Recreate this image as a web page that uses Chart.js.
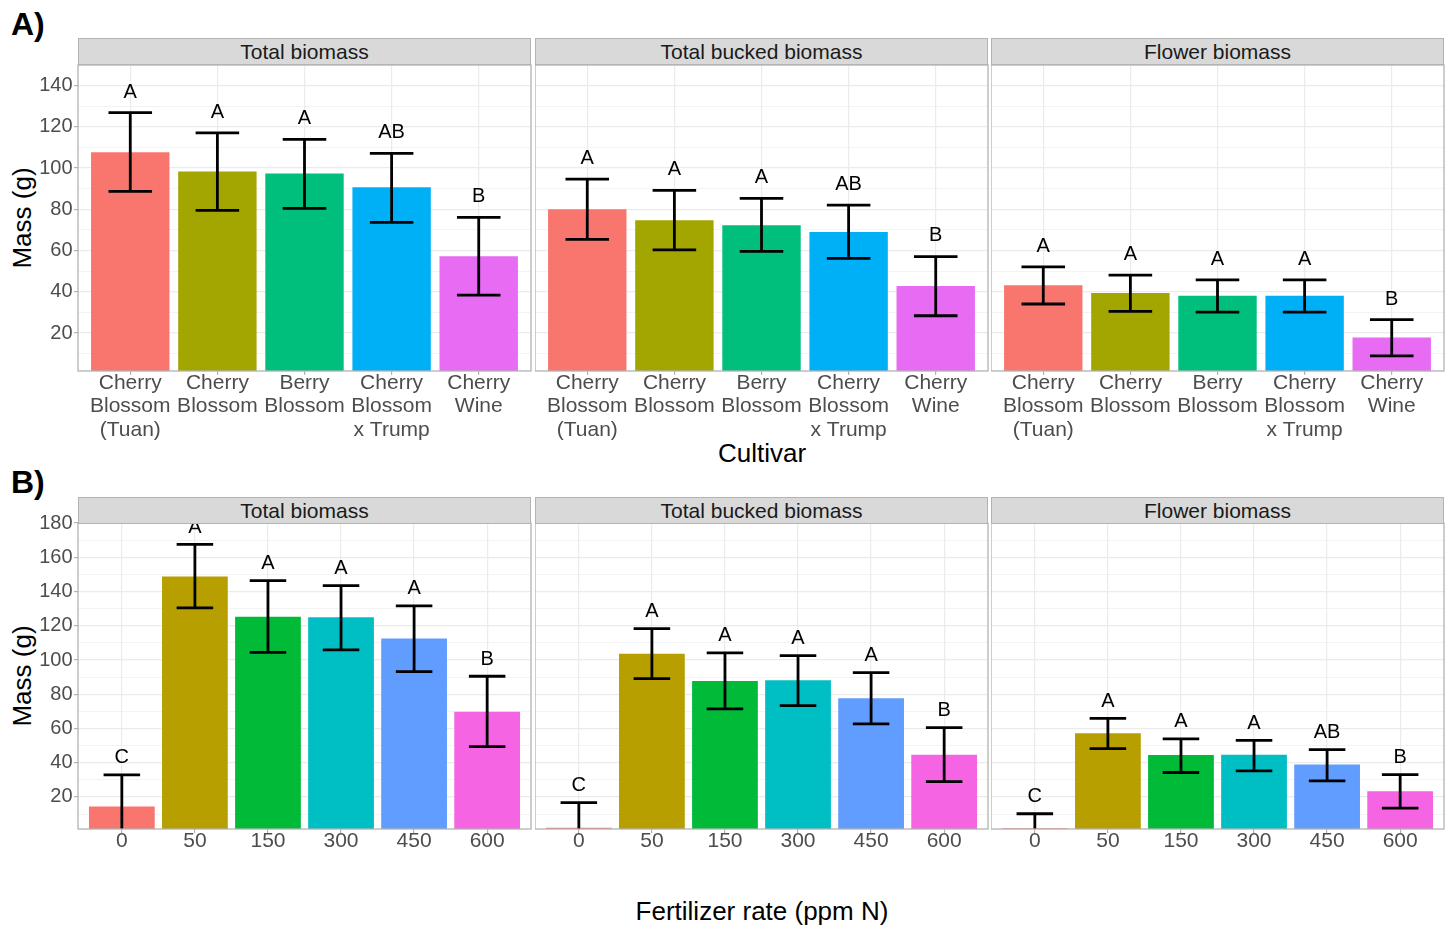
<!DOCTYPE html>
<html>
<head>
<meta charset="utf-8">
<script src="https://cdn.jsdelivr.net/npm/chart.js@4.4.1/dist/chart.umd.min.js"></script>
<style>
  body { margin: 0; background: #fff; font-family: "Liberation Sans", Arial, sans-serif; }
  #page { position: relative; width: 1447px; height: 926px; overflow: hidden; background: #fff; }
  canvas, .strip, .txt { position: absolute; }
  .strip { box-sizing: border-box; background: #d9d9d9; border: 1px solid #b3b3b3; color: #1a1a1a;
           font-size: 21px; text-align: center; line-height: 25px; }
  .txt { text-align: center; color: #000; white-space: nowrap; }
  .tag { font-weight: bold; font-size: 32px; text-align: left; }
  .axis { font-size: 26px; }
  .rot { transform: rotate(-90deg); }
</style>
</head>
<body>
<div id="page">
  <div class="txt tag" style="left:11px; top:4px; height:40px; line-height:40px;">A)</div>
  <div class="txt tag" style="left:11px; top:462px; height:40px; line-height:40px;">B)</div>
  <div class="txt axis" style="left:612px; top:437px; width:300px; height:32px; line-height:32px;">Cultivar</div>
  <div class="txt axis" style="left:562px; top:895px; width:400px; height:32px; line-height:32px;">Fertilizer rate (ppm N)</div>
  <div class="txt axis rot" style="left:-78px; top:202px; width:200px; height:32px; line-height:32px;">Mass (g)</div>
  <div class="txt axis rot" style="left:-78px; top:660px; width:200px; height:32px; line-height:32px;">Mass (g)</div>

  <canvas id="a1"></canvas><canvas id="a2"></canvas><canvas id="a3"></canvas>
  <canvas id="b1"></canvas><canvas id="b2"></canvas><canvas id="b3"></canvas>
</div>

<script>
// ---- data ----
const panelTitles = ['Total biomass', 'Total bucked biomass', 'Flower biomass'];

const cultivars = [
  ['Cherry', 'Blossom', '(Tuan)'],
  ['Cherry', 'Blossom'],
  ['Berry', 'Blossom'],
  ['Cherry', 'Blossom', 'x Trump'],
  ['Cherry', 'Wine']
];
const rates = ['0', '50', '150', '300', '450', '600'];

// A) by cultivar: mean, lower and upper end of error bar, letters
const cultTotalMean = [107.7, 98.3, 97.4, 90.7, 57.3];
const cultTotalLow = [88.7, 79.5, 80.5, 73.7, 38.4];
const cultTotalHigh = [126.9, 117.1, 113.9, 107.1, 76.1];
const cultTotalLetters = ['A', 'A', 'A', 'AB', 'B'];

const cultBuckedMean = [80.0, 74.7, 72.3, 69.0, 42.8];
const cultBuckedLow = [65.4, 60.3, 59.6, 56.2, 28.4];
const cultBuckedHigh = [94.7, 89.2, 85.3, 82.0, 57.1];
const cultBuckedLetters = ['A', 'A', 'A', 'AB', 'B'];

const cultFlowerMean = [43.2, 39.4, 38.1, 38.1, 17.8];
const cultFlowerLow = [34.1, 30.5, 30.2, 30.2, 8.9];
const cultFlowerHigh = [52.1, 48.1, 45.8, 45.8, 26.5];
const cultFlowerLetters = ['A', 'A', 'A', 'A', 'B'];

// B) by fertilizer rate
const rateTotalMean = [14.5, 148.8, 125.3, 124.9, 112.5, 69.8];
const rateTotalLow = [-3.9, 130.4, 104.5, 105.9, 93.2, 49.4];
const rateTotalHigh = [32.9, 167.5, 146.3, 143.4, 131.6, 90.5];
const rateTotalLetters = ['C', 'A', 'A', 'A', 'A', 'B'];

const rateBuckedMean = [2.1, 103.7, 87.8, 88.1, 77.6, 44.6];
const rateBuckedLow = [-12.5, 89.1, 71.4, 73.3, 62.7, 29.0];
const rateBuckedHigh = [16.7, 118.3, 104.1, 102.5, 92.6, 60.5];
const rateBuckedLetters = ['C', 'A', 'A', 'A', 'A', 'B'];

const rateFlowerMean = [1.7, 57.2, 44.5, 44.7, 39.0, 23.3];
const rateFlowerLow = [-7.0, 48.2, 34.3, 35.3, 29.4, 13.5];
const rateFlowerHigh = [10.2, 65.9, 53.9, 53.1, 47.7, 33.1];
const rateFlowerLetters = ['C', 'A', 'A', 'A', 'AB', 'B'];

// axis ticks
const massTicksA = [20, 40, 60, 80, 100, 120, 140];
const massMinorA = [10, 30, 50, 70, 90, 110, 130];
const massTicksB = [20, 40, 60, 80, 100, 120, 140, 160, 180];
const massMinorB = [10, 30, 50, 70, 90, 110, 130, 150, 170];

const cultColors = ['#F8766D', '#A3A500', '#00BF7D', '#00B0F6', '#E76BF3'];
const rateColors = ['#F8766D', '#B79F00', '#00BA38', '#00BFC4', '#619CFF', '#F564E3'];

// ---- layout ----
const FONT = '"Liberation Sans", Arial, sans-serif';
const COL_LEFT = [78, 535, 991];
const PANEL_W = 453;
const PANEL_H = 306;
const PAD_TOP = 14;
const PAD_RIGHT = 2;
const LETTER_GAP = 10;

function addStrip(text, left, top) {
  const d = document.createElement('div');
  d.className = 'strip';
  d.textContent = text;
  d.style.left = left + 'px';
  d.style.top = top + 'px';
  d.style.width = PANEL_W + 'px';
  d.style.height = '27px';
  document.getElementById('page').appendChild(d);
}

function makePanel(id, col, top, cfg) {
  const n = cfg.mean.length;
  const showY = col === 0;
  const yW = showY ? 60 : 0;
  const el = document.getElementById(id);
  el.width = yW + PANEL_W + PAD_RIGHT;
  el.height = PAD_TOP + PANEL_H + cfg.xH;
  el.style.left = (COL_LEFT[col] - yW) + 'px';
  el.style.top = (top - PAD_TOP) + 'px';

  const gridVals = cfg.ticks.concat(cfg.minor).sort((a, b) => a - b);

  const extras = {
    id: 'extras_' + id,
    afterDatasetsDraw(chart) {
      const { ctx, chartArea: a, scales: { x, y } } = chart;
      ctx.save();
      ctx.beginPath();
      ctx.rect(a.left, a.top, a.right - a.left, a.bottom - a.top);
      ctx.clip();
      ctx.strokeStyle = '#000';
      ctx.lineWidth = 2.8;
      ctx.fillStyle = '#000';
      ctx.font = '20px ' + FONT;
      ctx.textAlign = 'center';
      ctx.textBaseline = 'middle';
      cfg.mean.forEach((m, i) => {
        const cx = x.getPixelForValue(i + 1);
        const half = x.getPixelForValue(i + 1.25) - cx;
        const yl = y.getPixelForValue(cfg.low[i]);
        const yh = y.getPixelForValue(cfg.high[i]);
        ctx.beginPath();
        ctx.moveTo(cx, yl); ctx.lineTo(cx, yh);
        ctx.moveTo(cx - half, yh); ctx.lineTo(cx + half, yh);
        ctx.moveTo(cx - half, yl); ctx.lineTo(cx + half, yl);
        ctx.stroke();
        ctx.fillText(cfg.letters[i], cx, y.getPixelForValue(cfg.high[i] + LETTER_GAP));
      });
      ctx.restore();
    },
    afterDraw(chart) {
      const { ctx, chartArea: a } = chart;
      ctx.save();
      ctx.strokeStyle = '#b3b3b3';
      ctx.lineWidth = 1.3;
      ctx.strokeRect(a.left, a.top, a.right - a.left, a.bottom - a.top);
      ctx.restore();
    }
  };

  new Chart(el, {
    type: 'bar',
    data: {
      datasets: [{
        data: cfg.mean.map((v, i) => ({ x: i + 1, y: v })),
        backgroundColor: cfg.colors,
        borderWidth: 0,
        barPercentage: 0.9,
        categoryPercentage: 1
      }]
    },
    options: {
      responsive: false,
      animation: false,
      layout: { padding: { top: PAD_TOP, right: PAD_RIGHT, left: 0, bottom: 0 } },
      plugins: { legend: { display: false }, tooltip: { enabled: false } },
      scales: {
        x: {
          type: 'linear',
          offset: false,
          min: 0.4,
          max: n + 0.6,
          afterBuildTicks: s => { s.ticks = cfg.labels.map((l, i) => ({ value: i + 1 })); },
          afterFit: s => { s.height = cfg.xH; s.paddingLeft = 0; s.paddingRight = 0; },
          ticks: {
            autoSkip: false,
            maxRotation: 0,
            padding: -3,
            color: '#4d4d4d',
            font: { family: FONT, size: 21, lineHeight: 1.1 },
            callback: v => cfg.labels[v - 1]
          },
          grid: { offset: false, color: '#ebebeb', lineWidth: 1.2, tickLength: 4, tickColor: '#b3b3b3', tickWidth: 1.2 },
          border: { display: false }
        },
        y: {
          min: cfg.ymin,
          max: cfg.ymax,
          beginAtZero: false,
          afterBuildTicks: s => { s.ticks = gridVals.map(v => ({ value: v })); },
          afterFit: s => { s.width = yW; s.paddingTop = 0; s.paddingBottom = 0; },
          ticks: {
            display: showY,
            autoSkip: false,
            padding: 1.5,
            color: '#4d4d4d',
            font: { family: FONT, size: 20 },
            callback: v => cfg.ticks.includes(v) ? String(v) : ''
          },
          grid: {
            color: '#ebebeb',
            lineWidth: c => cfg.ticks.includes(c.tick.value) ? 1.2 : 0.6,
            drawTicks: showY,
            tickLength: 4,
            tickWidth: 1.2,
            tickColor: c => cfg.ticks.includes(c.tick.value) ? '#b3b3b3' : 'rgba(0,0,0,0)'
          },
          border: { display: false }
        }
      }
    },
    plugins: [extras]
  });
}

// strips
panelTitles.forEach((t, c) => { addStrip(t, COL_LEFT[c], 38); addStrip(t, COL_LEFT[c], 497); });

const rowA = { labels: cultivars, colors: cultColors, ticks: massTicksA, minor: massMinorA, ymin: 1.6, ymax: 150, xH: 75 };
const rowB = { labels: rates, colors: rateColors, ticks: massTicksB, minor: massMinorB, ymin: 1.3, ymax: 180, xH: 35 };

makePanel('a1', 0, 65, Object.assign({}, rowA, { mean: cultTotalMean, low: cultTotalLow, high: cultTotalHigh, letters: cultTotalLetters }));
makePanel('a2', 1, 65, Object.assign({}, rowA, { mean: cultBuckedMean, low: cultBuckedLow, high: cultBuckedHigh, letters: cultBuckedLetters }));
makePanel('a3', 2, 65, Object.assign({}, rowA, { mean: cultFlowerMean, low: cultFlowerLow, high: cultFlowerHigh, letters: cultFlowerLetters }));

makePanel('b1', 0, 523, Object.assign({}, rowB, { mean: rateTotalMean, low: rateTotalLow, high: rateTotalHigh, letters: rateTotalLetters }));
makePanel('b2', 1, 523, Object.assign({}, rowB, { mean: rateBuckedMean, low: rateBuckedLow, high: rateBuckedHigh, letters: rateBuckedLetters }));
makePanel('b3', 2, 523, Object.assign({}, rowB, { mean: rateFlowerMean, low: rateFlowerLow, high: rateFlowerHigh, letters: rateFlowerLetters }));
</script>
</body>
</html>
